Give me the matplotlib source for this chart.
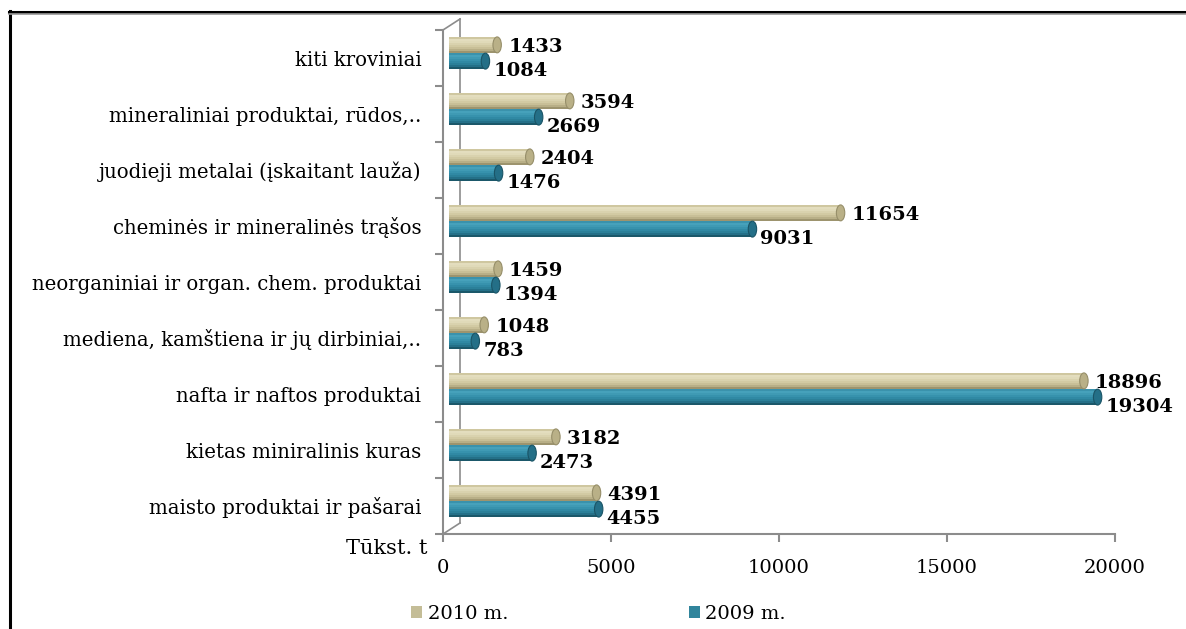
import matplotlib
matplotlib.use("Agg")
import matplotlib.pyplot as plt
from matplotlib.lines import Line2D
from matplotlib.patches import Ellipse, Patch
import numpy as np

# ---- data (bottom to top) ----
categories = [
    "maisto produktai ir pašarai",
    "kietas miniralinis kuras",
    "nafta ir naftos produktai",
    "mediena, kamštiena ir jų dirbiniai,..",
    "neorganiniai ir organ. chem. produktai",
    "cheminės ir mineralinės trąšos",
    "juodieji metalai (įskaitant lauža)",
    "mineraliniai produktai, rūdos,..",
    "kiti kroviniai",
]
values_2010 = [4391, 3182, 18896, 1048, 1459, 11654, 2404, 3594, 1433]
values_2009 = [4455, 2473, 19304, 783, 1394, 9031, 1476, 2669, 1084]
series_labels = ["2010 m.", "2009 m."]
xticks = [0, 5000, 10000, 15000, 20000]
unit_label = "Tūkst. t"

W, H = 1186, 629
fig = plt.figure(figsize=(W / 100, H / 100), dpi=100)
fig.patch.set_facecolor("white")
SERIF = ["DejaVu Serif"]

def fx(px):
    return px / W

def fy(py):
    return 1 - py / H

# front axes (ticks, labels)
axf = fig.add_axes([fx(443), fy(534), 672 / W, 504 / H])
axf.set_facecolor("none")
axf.set_xlim(0, 20000)
axf.set_ylim(-0.5, len(categories) - 0.5)
for s in ["top", "right"]:
    axf.spines[s].set_visible(False)
for s in ["left", "bottom"]:
    axf.spines[s].set_color("#8C8C8C")
    axf.spines[s].set_linewidth(1.5)
axf.set_xticks(xticks)
axf.set_xticklabels([str(t) for t in xticks], fontsize=14, family=SERIF)
axf.tick_params(axis="x", length=6, width=1.5, color="#8C8C8C", pad=12)
ypos = np.arange(len(categories))
axf.set_yticks(ypos)
axf.set_yticklabels(categories, fontsize=14.2, family=SERIF)
axf.tick_params(axis="y", which="major", length=0, pad=15.5)
axf.set_yticks(np.arange(len(categories) + 1) - 0.5, minor=True)
axf.tick_params(axis="y", which="minor", length=6, width=1.5, color="#8C8C8C")

# back wall lines
wall = dict(transform=fig.transFigure, color="#8C8C8C", lw=1.2, zorder=-1)
fig.add_artist(Line2D([fx(460), fx(460)], [fy(19), fy(523)], **wall))
fig.add_artist(Line2D([fx(443), fx(460)], [fy(30), fy(19)], **wall))
fig.add_artist(Line2D([fx(443), fx(460)], [fy(534), fy(523)], **wall))

# bars axes
axb = fig.add_axes([fx(449), fy(529), 672 / W, 504 / H])
axb.set_facecolor("none")
axb.set_xlim(0, 20000)
axb.set_ylim(-0.5, len(categories) - 0.5)
axb.axis("off")

bh = 0.29
beige_grad = ['#CFC7A0', '#E3DDBE', '#E0DAB9', '#D9D2AE', '#D2CAA3', '#C8BF97', '#B8AF87', '#9D946E']
teal_grad = ['#3A92AC', '#46A1BB', '#3F9AB4', '#3792AD', '#3089A4', '#2B8099', '#247088', '#1B586A']

def cylinder(ax, centers, vals, grad, cap_face, cap_edge):
    n = len(grad)
    for k, c in enumerate(grad):
        yc = centers + bh / 2 - (k + 0.5) * bh / n
        ax.barh(yc, vals, height=bh / n + 0.002, color=c, linewidth=0, zorder=2)
    for yc, v in zip(centers, vals):
        ax.add_patch(Ellipse((v, yc), width=250, height=bh * 0.98,
                             facecolor=cap_face, edgecolor=cap_edge, lw=0.8, zorder=3))

cylinder(axb, ypos + bh / 2, np.array(values_2010), beige_grad, "#B9B087", "#968E69")
cylinder(axb, ypos - bh / 2, np.array(values_2009), teal_grad, "#246F87", "#1A5466")

for y, v in zip(ypos, values_2010):
    axb.annotate(str(v), (v, y + bh / 2), xytext=(11, -2), textcoords="offset pixels",
                 ha="left", va="center", fontsize=14, fontweight="bold", family=SERIF, zorder=5)
for y, v in zip(ypos, values_2009):
    axb.annotate(str(v), (v, y - bh / 2), xytext=(8, -10), textcoords="offset pixels",
                 ha="left", va="center", fontsize=14, fontweight="bold", family=SERIF, zorder=5)

# unit label
fig.text(fx(427), fy(548), unit_label, ha="right", va="center", fontsize=15, family=SERIF)

# legend
handles = [Patch(facecolor="#C4BD97", edgecolor="none"), Patch(facecolor="#31859C", edgecolor="none")]
fig.legend(handles, series_labels, loc="center left", bbox_to_anchor=(fx(411), fy(614)),
           ncol=2, frameon=False, prop={"family": SERIF, "size": 14}, handlelength=0.55,
           handleheight=0.55, handletextpad=0.3, columnspacing=9.3, borderpad=0, borderaxespad=0)

# figure border (top and left)
border = dict(transform=fig.transFigure, color="black", lw=2.2)
fig.add_artist(Line2D([fx(9), 1], [fy(12), fy(12)], **border))
fig.add_artist(Line2D([fx(10), fx(10)], [fy(11), 0], **border))
fig.add_artist(Line2D([fx(9), 1], [fy(14), fy(14)], transform=fig.transFigure, color="#999999", lw=1.2))

fig.savefig("out.png", dpi=100)
